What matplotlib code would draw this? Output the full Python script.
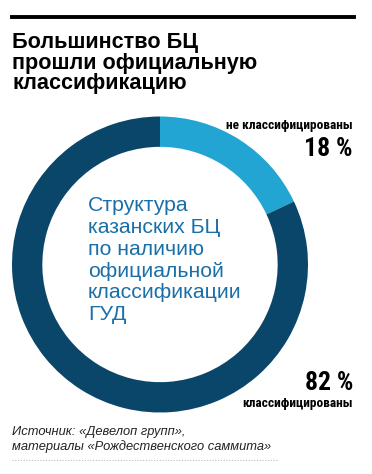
import matplotlib
matplotlib.use('Agg')
import matplotlib.pyplot as plt
from matplotlib.lines import Line2D

# данные
labels = ['не классифицированы', 'классифицированы']
shares = [18, 82]
colors = ['#22a5d2', '#0a4669']

title = 'Большинство БЦ\nпрошли официальную\nклассификацию'
center_text = 'Структура\nказанских БЦ\nпо наличию\nофициальной\nклассификации\nГУД'
source = 'Источник: «Девелоп групп»,\nматериалы «Рождественского саммита»'

W, H = 372, 474
fig = plt.figure(figsize=(W / 100, H / 100), dpi=100)
fig.patch.set_facecolor('white')


def fx(x):
    return x / W


def fy(y):
    return 1 - y / H


sans = ['Liberation Sans', 'DejaVu Sans']
narrow = ['Roboto Condensed', 'DejaVu Sans']

# верхняя черная линия
fig.add_artist(Line2D([fx(12), fx(354)], [fy(16.5), fy(16.5)], color='black', lw=2.8))

fig.text(fx(12), fy(32), title, ha='left', va='top', fontsize=15.6, fontweight='bold',
         family=sans, linespacing=0.97, color='black')

# кольцо
cx, cy, r = 160, 264.5, 148
ax = fig.add_axes([fx(cx - r), fy(cy + r), 2 * r / W, 2 * r / H])
ax.pie(shares, colors=colors, startangle=90, counterclock=False, radius=1,
       wedgeprops=dict(width=0.205, linewidth=0))
ax.set_xlim(-1, 1)
ax.set_ylim(-1, 1)
ax.set_aspect('auto')
ax.axis('off')

fig.text(fx(88), fy(196), center_text, ha='left', va='top', fontsize=15.3,
         family=sans, linespacing=1.19, color='#1a6fa8')

fig.text(fx(353), fy(129), labels[0], ha='right', va='baseline', fontsize=9.6,
         fontweight='bold', family=narrow, color='black')
fig.text(fx(353), fy(155.5), '%d %%' % shares[0], ha='right', va='baseline', fontsize=18.5,
         fontweight='bold', family=narrow, color='black')
fig.text(fx(353), fy(390), '%d %%' % shares[1], ha='right', va='baseline', fontsize=18.5,
         fontweight='bold', family=narrow, color='black')
fig.text(fx(353), fy(407), labels[1], ha='right', va='baseline', fontsize=9.6,
         fontweight='bold', family=narrow, color='black')

fig.text(fx(12), fy(426), source, ha='left', va='top', fontsize=9.3, style='italic',
         family=sans, linespacing=1.2, color='#222222')
fig.add_artist(Line2D([fx(12), fx(278)], [fy(460), fy(460)], color='#bbbbbb', lw=0.8,
                      linestyle=(0, (1, 1.5))))

fig.savefig('out.png', dpi=100)
